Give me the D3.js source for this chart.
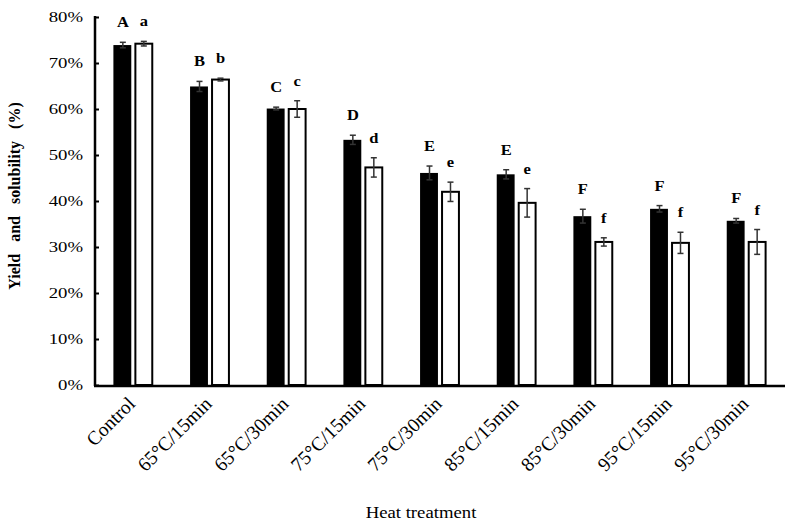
<!DOCTYPE html>
<html>
<head>
<meta charset="utf-8">
<script src="https://cdn.jsdelivr.net/npm/d3@7"></script>
<style>
    body { margin: 0; background: #fff; }
    svg text { font-family: "Liberation Serif", "Times New Roman", serif; fill: #000; }
</style>
</head>
<body>
<div id="chartDiv"></div>
<script>
// values (percent)
const categories = ['Control', '65°C/15min', '65°C/30min', '75°C/15min', '75°C/30min',
    '85°C/15min', '85°C/30min', '95°C/15min', '95°C/30min'];
const yieldVals = [73.9, 64.9, 60.1, 53.3, 46.1, 45.8, 36.7, 38.3, 35.7];
const yieldErr = [0.6, 1.1, 0.3, 1.0, 1.5, 1.0, 1.5, 0.7, 0.5];
const solubilityVals = [74.2, 66.4, 60.0, 47.3, 42.0, 39.6, 31.1, 30.9, 31.1];
const solubilityErr = [0.5, 0.3, 1.8, 2.1, 2.1, 3.1, 0.9, 2.3, 2.7];
const yieldLetters = ['A', 'B', 'C', 'D', 'E', 'E', 'F', 'F', 'F'];
const solubilityLetters = ['a', 'b', 'c', 'd', 'e', 'e', 'f', 'f', 'f'];
const yTicks = [0, 10, 20, 30, 40, 50, 60, 70, 80];

const width = 790, height = 524;
const margin = {top: 17, right: 5, bottom: 138, left: 95};

// the source figure is a bit stretched sideways, so text gets a small x-scale
const stretch = 1.25;

let svg = d3.select('#chartDiv').append('svg')
    .attr('width', width)
    .attr('height', height);

let x0 = d3.scaleBand()
    .domain(categories)
    .range([margin.left, width - margin.right])
    .paddingInner(0.48)
    .paddingOuter(0.24);

let x1 = d3.scaleBand()
    .domain(['yield', 'solubility'])
    .range([0, x0.bandwidth()])
    .paddingInner(0.1);

let y = d3.scaleLinear()
    .domain([0, 80])
    .range([height - margin.bottom - 1, margin.top]);

// one row per bar
let rows = [];
categories.forEach((c, i) => {
    rows.push({cat: c, key: 'yield', value: yieldVals[i], err: yieldErr[i], letter: yieldLetters[i]});
    rows.push({cat: c, key: 'solubility', value: solubilityVals[i], err: solubilityErr[i], letter: solubilityLetters[i]});
});

const barX = d => x0(d.cat) + x1(d.key);
const barMid = d => barX(d) + x1.bandwidth() / 2;

// bars
svg.selectAll('rect.bar')
    .data(rows)
    .enter()
    .append('rect')
    .attr('class', 'bar')
    .attr('x', d => d.key === 'yield' ? barX(d) : barX(d) + 1)
    .attr('width', d => d.key === 'yield' ? x1.bandwidth() - 1 : x1.bandwidth() - 2)
    .attr('y', d => y(d.value))
    .attr('height', d => y(0) - y(d.value))
    .style('fill', d => d.key === 'yield' ? '#000' : '#fff')
    .style('stroke', '#000')
    .style('stroke-width', d => d.key === 'yield' ? 0 : 2);

// error bars
let err = svg.selectAll('g.err')
    .data(rows)
    .enter()
    .append('g')
    .attr('class', 'err')
    .style('stroke', '#333')
    .style('stroke-width', 1.5);

err.append('line')
    .attr('x1', barMid).attr('x2', barMid)
    .attr('y1', d => y(d.value + d.err))
    .attr('y2', d => y(d.value - d.err));
err.append('line')
    .attr('x1', d => barMid(d) - 3).attr('x2', d => barMid(d) + 3)
    .attr('y1', d => y(d.value + d.err)).attr('y2', d => y(d.value + d.err));
err.append('line')
    .attr('x1', d => barMid(d) - 3).attr('x2', d => barMid(d) + 3)
    .attr('y1', d => y(d.value - d.err)).attr('y2', d => y(d.value - d.err));

// significance letters
svg.selectAll('text.letter')
    .data(rows)
    .enter()
    .append('text')
    .attr('class', 'letter')
    .attr('transform', d => `translate(${barMid(d)}, ${y(d.value + d.err) - 15}) scale(1.1, 1)`)
    .style('text-anchor', 'middle')
    .style('font-size', '15px')
    .style('font-weight', 'bold')
    .text(d => d.letter);

// y axis
let yAxis = d3.axisLeft(y)
    .tickValues(yTicks)
    .tickSize(-4)
    .tickPadding(12)
    .tickFormat(d => d + '%');

let gy = svg.append('g')
    .attr('transform', `translate(${margin.left}, 0)`)
    .call(yAxis);
gy.select('.domain').remove();
gy.selectAll('.tick line').attr('stroke', '#000').attr('stroke-width', 2);
gy.selectAll('.tick text')
    .style('font-size', '15px')
    .attr('x', -12 / stretch)
    .attr('transform', `scale(${stretch}, 1)`);
gy.append('line')
    .attr('x1', 0).attr('x2', 0)
    .attr('y1', y(80) - 1).attr('y2', y(0) + 1)
    .attr('stroke', '#000').attr('stroke-width', 2.5);

// x axis
let xAxis = d3.axisBottom(x0).tickSize(0).tickPadding(0);
let gx = svg.append('g')
    .attr('transform', `translate(0, ${y(0) + 1})`)
    .call(xAxis);
gx.select('.domain').remove();
gx.append('line')
    .attr('x1', margin.left - 1).attr('x2', width - margin.right)
    .attr('y1', 0).attr('y2', 0)
    .attr('stroke', '#000').attr('stroke-width', 2.5);
gx.selectAll('.tick text')
    .style('font-size', '19.5px')
    .style('text-anchor', 'end')
    .attr('dy', 0)
    .attr('y', 0)
    .attr('transform', 'translate(3, 19) rotate(-45)');

// axis titles
svg.append('text')
    .attr('transform', 'translate(421, 518) scale(1.17, 1)')
    .style('text-anchor', 'middle')
    .style('font-size', '16px')
    .text('Heat treatment');

svg.append('text')
    .attr('transform', `translate(20, 196) rotate(-90)`)
    .style('text-anchor', 'middle')
    .style('font-size', '16px')
    .style('font-weight', 'bold')
    .style('word-spacing', '8px')
    .text('Yield and solubility (%)');
</script>
</body>
</html>
